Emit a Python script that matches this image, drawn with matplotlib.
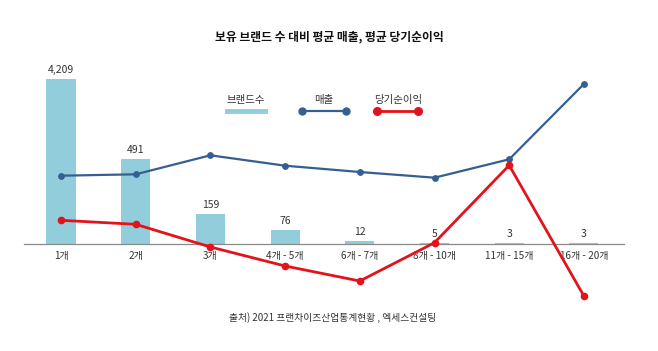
import matplotlib
matplotlib.use("Agg")
import matplotlib.pyplot as plt
from matplotlib.lines import Line2D

plt.rcParams['font.family'] = ['Noto Sans CJK KR', 'DejaVu Sans']

categories = ["1개", "2개", "3개", "4개 - 5개", "6개 - 7개", "8개 - 10개", "11개 - 15개", "16개 - 20개"]
brand_counts = [4209, 491, 159, 76, 12, 5, 3, 3]
# visual bar heights as drawn in the reference (not proportional to the counts)
bar_heights = [164.7, 85, 29.7, 14.3, 3, 1, 1, 1]
sales = [68.3, 69.7, 88.7, 78.3, 72, 66.3, 84.7, 160]
net_profit = [23.7, 19.7, -3, -22, -37, 1.3, 78.7, -52]

W, H = 658, 351
fig = plt.figure(figsize=(W / 100, H / 100), dpi=100)
fig.patch.set_facecolor("white")

# axes spanning px x 24..624, y 60..300 (from top)
ax = fig.add_axes([24 / W, (H - 300) / H, 600 / W, 240 / H])
step = 74.7
ax.set_xlim((24 - 61) / step, (624 - 61) / step)
ax.set_ylim(244 - 300, 244 - 60)

bar_color = "#92CDDC"
blue = "#365F91"
red = "#E3131B"

x = list(range(len(categories)))
bars = ax.bar(x, bar_heights, width=0.39, color=bar_color, zorder=1)
ax.bar_label(bars, labels=[f"{v:,}" for v in brand_counts], padding=3,
             fontsize=7.5, color="#333333")

ax.plot(x, sales, color=blue, lw=1.6, marker="o", ms=3.9, zorder=3)
ax.plot(x, net_profit, color=red, lw=2.0, marker="o", ms=4.5, zorder=4)

for s in ["top", "left", "right"]:
    ax.spines[s].set_visible(False)
ax.spines["bottom"].set_position(("data", 0))
ax.spines["bottom"].set_color("#8a8a8a")
ax.spines["bottom"].set_linewidth(0.9)
ax.spines["bottom"].set_zorder(2)
ax.set_yticks([])
ax.set_xticks(x)
ax.set_xticklabels(categories, fontsize=7.2, color="#333333")
ax.tick_params(axis="x", length=0, pad=5)
ax.patch.set_alpha(0)

def px(xp, yp):
    return xp / W, 1 - yp / H

# title and source
fig.text(*px(329, 37), "보유 브랜드 수 대비 평균 매출, 평균 당기순이익", ha="center", va="center",
         fontsize=8.5, fontweight="bold", color="#111111")
fig.text(*px(333, 318), "출처) 2021 프랜차이즈산업통계현황 , 엑세스컨설팅", ha="center", va="center",
         fontsize=7, color="#333333")

# legend
fig.text(*px(246, 100), "브랜드수", ha="center", va="center", fontsize=7.5, color="#333333")
fig.add_artist(Line2D([227 / W, 265 / W], [1 - 111 / H] * 2, color=bar_color, lw=3.5,
                      transform=fig.transFigure))
fig.text(*px(324, 100), "매출", ha="center", va="center", fontsize=7.5, color="#333333")
fig.add_artist(Line2D([302 / W, 346 / W], [1 - 111 / H] * 2, color=blue, lw=1.6,
                      marker="o", ms=5, transform=fig.transFigure))
fig.text(*px(398, 100), "당기순이익", ha="center", va="center", fontsize=7.5, color="#333333")
fig.add_artist(Line2D([377 / W, 418 / W], [1 - 111 / H] * 2, color=red, lw=2.0,
                      marker="o", ms=5.5, transform=fig.transFigure))

fig.savefig("out.png", dpi=100, facecolor="white")
